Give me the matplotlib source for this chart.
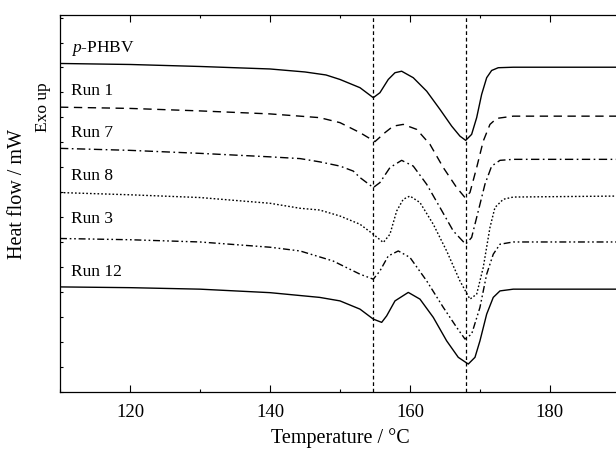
import matplotlib
matplotlib.use("Agg")
import matplotlib.pyplot as plt
from matplotlib.ticker import MultipleLocator, NullFormatter

plt.rcParams["font.family"] = "Liberation Serif"
plt.rcParams["mathtext.fontset"] = "custom"
plt.rcParams["mathtext.it"] = "Liberation Serif:italic"
plt.rcParams["mathtext.rm"] = "Liberation Serif"

# ---------------------------------------------------------------------
# Data (heat flow in arbitrary shifted units)
# ---------------------------------------------------------------------
T_PHBV = [110, 120, 130, 140, 145, 148, 150, 152.86, 154.76, 155.71, 156.9, 157.86,
          158.81, 160.47, 162.39, 164.29, 165.96, 167.14, 167.96, 168.81, 169.53, 170.24,
          170.96, 171.67, 172.61, 174.76, 190]
HF_PHBV = [13.16, 13.12, 13.04, 12.94, 12.82, 12.70, 12.52, 12.19, 11.79, 11.99, 12.52, 12.79,
           12.85, 12.59, 12.05, 11.32, 10.65, 10.25, 10.08, 10.32, 10.99, 11.92,
           12.59, 12.88, 12.99, 13.01, 13.01]

T_RUN1 = [110, 120, 130, 140, 144.3, 147.1, 150, 152.86, 155, 156.43, 157.61, 159.04, 160.96,
          162.86, 164.76, 166.67, 167.86, 168.57, 169.53, 170.47, 171.43, 172.39, 174.76, 190]
HF_RUN1 = [11.41, 11.36, 11.26, 11.14, 11.05, 10.99, 10.79, 10.39, 10.03, 10.39, 10.65, 10.72, 10.52,
           9.92, 8.99, 8.19, 7.79, 7.99, 8.99, 10.05, 10.72, 10.96, 11.05, 11.05]

T_RUN7 = [110, 120, 130, 140, 144.3, 147.1, 150, 151.9, 152.86, 154.76, 155.71, 157.14, 158.81,
          160.47, 162.39, 164.29, 166.19, 167.96, 168.81, 169.76, 170.71, 171.67, 172.86, 174.76, 190]
HF_RUN7 = [9.76, 9.68, 9.56, 9.42, 9.35, 9.22, 9.05, 8.85, 8.59, 8.19, 8.39, 8.99, 9.28,
           9.05, 8.32, 7.39, 6.45, 5.92, 6.19, 7.25, 8.32, 9.05, 9.28, 9.32, 9.32]

T_RUN8 = [110, 120, 130, 140, 144.3, 147.1, 150, 152.86, 154.76, 156.19, 157.14, 158.1, 159.04,
          160, 161.43, 163.33, 165.24, 167.14, 168.57, 169.53, 170.47, 171.43, 172.14, 173.33,
          174.76, 190]
HF_RUN8 = [7.99, 7.90, 7.79, 7.56, 7.36, 7.29, 7.05, 6.72, 6.32, 5.99, 6.32, 7.25, 7.72,
           7.85, 7.59, 6.72, 5.65, 4.45, 3.72, 3.92, 4.99, 6.59, 7.39, 7.72,
           7.81, 7.85]

T_RUN3 = [110, 120, 130, 140, 144.3, 149, 152.86, 154.76, 155.71, 156.9, 158.33, 160, 162.39,
          164.76, 166.67, 167.86, 168.81, 170, 170.96, 171.9, 172.86, 174.76, 190]
HF_RUN3 = [6.15, 6.10, 6.01, 5.80, 5.65, 5.25, 4.72, 4.52, 4.85, 5.45, 5.65, 5.39, 4.45,
           3.39, 2.59, 2.12, 2.32, 3.39, 4.72, 5.52, 5.92, 6.01, 6.01]

T_RUN12 = [110, 120, 130, 140, 147.1, 150, 152.86, 154.76, 155.96, 156.67, 157.86, 159.76, 161.43,
           163.33, 165.24, 166.9, 168.33, 169.29, 170, 170.96, 171.9, 172.86, 174.76, 190]
HF_RUN12 = [4.21, 4.18, 4.12, 3.98, 3.79, 3.65, 3.32, 2.92, 2.79, 3.05, 3.65, 3.99, 3.72,
            2.99, 2.05, 1.39, 1.12, 1.39, 2.05, 3.12, 3.79, 4.05, 4.12, 4.12]

LABELS = ["$\\mathit{p}$-PHBV", "Run 1", "Run 7", "Run 8", "Run 3", "Run 12"]
LABEL_Y = [13.8, 12.09, 10.41, 8.68, 6.96, 4.84]
PEAK_LINES = [154.7, 168.0]

# ---------------------------------------------------------------------
# Plot
# ---------------------------------------------------------------------
fig = plt.figure(figsize=(6.16, 4.52), dpi=100)
ax = fig.add_axes([0.0974, 0.1305, 0.909, 0.834])

curves = [
    (T_PHBV, HF_PHBV, "-"),
    (T_RUN1, HF_RUN1, (0, (6, 4))),
    (T_RUN7, HF_RUN7, (0, (6, 2.5, 1.2, 2.5))),
    (T_RUN8, HF_RUN8, (0, (1.2, 1.5))),
    (T_RUN3, HF_RUN3, (0, (5, 2, 1.2, 2, 1.2, 2))),
    (T_RUN12, HF_RUN12, "-"),
]
for t, hf, ls in curves:
    ax.plot(t, hf, color="black", linestyle=ls, linewidth=1.0)

for xv in PEAK_LINES:
    ax.axvline(xv, color="black", linestyle=(0, (3, 2.2)), linewidth=0.9)

for lab, y in zip(LABELS, LABEL_Y):
    ax.text(111.6, y, lab, fontsize=12.5, ha="left", va="center")

ax.set_xlim(110, 190)
ax.set_ylim(0, 15.1)
ax.xaxis.set_major_locator(MultipleLocator(20))
ax.xaxis.set_minor_locator(MultipleLocator(10))
ax.yaxis.set_major_locator(MultipleLocator(1))
ax.yaxis.set_major_formatter(NullFormatter())
ax.tick_params(axis="x", which="major", direction="in", top=True, length=5, width=0.8,
               labelsize=13.5, pad=8)
ax.tick_params(axis="x", which="minor", direction="in", top=True, length=2.5, width=0.8)
ax.tick_params(axis="y", which="major", direction="in", right=False, length=2, width=0.8)
for s in ax.spines.values():
    s.set_linewidth(0.9)

ax.set_xlabel("Temperature / °C", fontsize=14.5, labelpad=5)
fig.text(0.028, 0.57, "Heat flow / mW", rotation=90, fontsize=14.5, ha="center", va="center")
fig.text(0.07, 0.763, "Exo up", rotation=90, fontsize=12.5, ha="center", va="center")

fig.savefig("out.png", dpi=100)
